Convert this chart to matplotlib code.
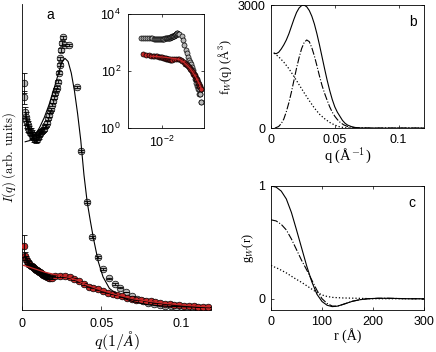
import matplotlib
matplotlib.use("Agg")
import matplotlib.pyplot as plt
import numpy as np

plt.rcParams["font.family"] = ["Liberation Sans", "DejaVu Sans"]
plt.rcParams["mathtext.fontset"] = "cm"
plt.rcParams["font.size"] = 9

# ---- panel a: scattering data (arb. units) ----
gray_q = [0.0010, 0.0015, 0.0019, 0.0023, 0.0027, 0.0031, 0.0035, 0.0040, 0.0045, 0.0050,
          0.0055, 0.0060, 0.0065, 0.0070, 0.0075, 0.0080, 0.0085, 0.0090, 0.0095, 0.0100,
          0.0105, 0.0110, 0.0116, 0.0122, 0.0128, 0.0134, 0.0140, 0.0146, 0.0152, 0.0158,
          0.0164, 0.0170, 0.0176, 0.0182, 0.0188, 0.0194, 0.0200, 0.0206, 0.0212, 0.0218,
          0.0224, 0.0230, 0.0236, 0.0242, 0.0248, 0.0254, 0.0260, 0.0270, 0.0296, 0.0346,
          0.0371, 0.0409, 0.0440, 0.0478, 0.0509, 0.0547, 0.0585, 0.0616, 0.0654, 0.0692,
          0.0723, 0.0761, 0.0792, 0.0830, 0.0868, 0.0899, 0.0937, 0.0969, 0.1006, 0.1038,
          0.1075, 0.1107, 0.1145, 0.1176]
gray_I = [1780, 1670, 1550, 1515, 1490, 1465, 1450, 1430, 1415, 1400,
          1395, 1380, 1370, 1365, 1350, 1345, 1340, 1350, 1345, 1360,
          1370, 1380, 1390, 1400, 1405, 1415, 1420, 1440, 1450, 1470,
          1505, 1530, 1560, 1575, 1610, 1640, 1670, 1700, 1730, 1745,
          1790, 1860, 1925, 1975, 2040, 2095, 2140, 2080, 2080, 1750,
          1247, 847, 573, 416, 322, 251, 204, 173, 141, 110,
          86, 71, 55, 47, 39, 31, 31, 24, 24, 16,
          16, 16, 8, 8]
gray_err = [80, 50, 40, 35, 35, 35, 30, 30, 30, 30,
            30, 30, 30, 30, 30, 30, 30, 30, 30, 30,
            25, 25, 22, 20, 18, 16, 15, 14, 13, 12,
            12, 12, 12, 12, 12, 12, 12, 12, 12, 12,
            12, 12, 12, 12, 12, 12, 12, 10, 10, 8,
            6, 6, 5, 5, 5, 4, 4, 4, 3, 3,
            3, 3, 3, 3, 3, 3, 3, 2, 2, 2,
            2, 2, 2, 2]

red_q = [0.0013, 0.0019, 0.0025, 0.0031, 0.0038, 0.0044, 0.0050, 0.0057, 0.0063, 0.0069,
         0.0075, 0.0082, 0.0088, 0.0094, 0.0101, 0.0107, 0.0113, 0.0119, 0.0126, 0.0132,
         0.0138, 0.0145, 0.0151, 0.0157, 0.0164, 0.0170, 0.0176, 0.0183, 0.0189,
         0.021, 0.024, 0.027, 0.030, 0.033, 0.036, 0.039, 0.042, 0.045, 0.048,
         0.051, 0.054, 0.057, 0.060, 0.063, 0.066, 0.069, 0.072, 0.075, 0.078,
         0.081, 0.084, 0.087, 0.090, 0.093, 0.096, 0.099, 0.102, 0.105, 0.108,
         0.111, 0.114, 0.117]
red_I = [502, 424, 400, 384, 376, 361, 353, 345, 345, 337,
         329, 322, 314, 314, 306, 298, 298, 290, 282, 275,
         275, 267, 267, 259, 259, 255, 255, 258, 255,
         268, 268, 264, 256, 243, 224, 204, 184, 173, 161,
         149, 137, 125, 118, 106, 98, 90, 82, 78, 71,
         67, 59, 55, 51, 47, 43, 39, 35, 31, 31,
         27, 24, 24]
red_err = [86, 30, 25, 22, 20, 20, 18, 18, 18, 16,
           16, 16, 15, 15, 15, 14, 14, 14, 13, 13,
           13, 12, 12, 12, 12, 12, 12, 12, 12,
           6, 6, 6, 6, 5, 5, 5, 4, 4, 4,
           4, 4, 3, 3, 3, 3, 3, 3, 3, 3,
           2, 2, 2, 2, 2, 2, 2, 2, 2, 2,
           2, 2, 2]

fit_gray_q = [0.002, 0.005, 0.008, 0.011, 0.014, 0.017, 0.020, 0.023, 0.025, 0.027,
              0.029, 0.031, 0.033, 0.035, 0.037, 0.039, 0.041, 0.043, 0.045, 0.048,
              0.051, 0.055, 0.060, 0.065, 0.070, 0.075, 0.080, 0.090, 0.100, 0.110, 0.118]
fit_gray_I = [1320, 1330, 1370, 1430, 1510, 1610, 1730, 1860, 1940, 1975,
              1950, 1860, 1720, 1540, 1330, 1060, 850, 700, 560, 380,
              260, 170, 120, 88, 65, 52, 40, 30, 26, 22, 18]

fit_red_q = [0.001, 0.005, 0.010, 0.015, 0.020, 0.025, 0.030, 0.035, 0.040, 0.050,
             0.060, 0.070, 0.080, 0.090, 0.100, 0.110, 0.118]
fit_red_I = [350, 335, 315, 295, 280, 268, 255, 232, 200, 155,
             118, 88, 68, 52, 40, 30, 24]

# ---- panel b: form factor ----
fb_q = [0.0024, 0.004, 0.006, 0.008, 0.010, 0.012, 0.014, 0.016, 0.018, 0.020,
        0.022, 0.024, 0.026, 0.028, 0.030, 0.032, 0.034, 0.036, 0.038, 0.040,
        0.042, 0.044, 0.046, 0.048, 0.050, 0.052, 0.054, 0.056, 0.058, 0.060,
        0.063, 0.066, 0.070, 0.080, 0.120]
fb_total = [1830, 1815, 1850, 1930, 2030, 2150, 2300, 2480, 2660, 2820,
            2930, 2990, 3000, 2960, 2870, 2730, 2540, 2300, 2030, 1740,
            1450, 1170, 920, 700, 520, 390, 290, 190, 120, 75,
            38, 16, 5, 0, 0]
fb_dash_q = [0.003, 0.006, 0.008, 0.010, 0.012, 0.014, 0.016, 0.018, 0.020, 0.022,
             0.024, 0.026, 0.028, 0.030, 0.032, 0.034, 0.036, 0.038, 0.040, 0.042,
             0.044, 0.046, 0.048, 0.050, 0.052, 0.054, 0.057, 0.060, 0.065, 0.070,
             0.080, 0.120]
fb_dash = [0, 40, 110, 220, 400, 620, 880, 1170, 1460, 1720,
           1940, 2090, 2150, 2110, 1960, 1760, 1520, 1270, 1040, 850,
           680, 520, 390, 290, 210, 146, 80, 40, 12, 4,
           0, 0]
fb_dot_q = [0.0024, 0.006, 0.010, 0.014, 0.018, 0.022, 0.026, 0.030, 0.034, 0.038,
            0.042, 0.046, 0.050, 0.054, 0.058, 0.065, 0.080, 0.120]
fb_dot = [1830, 1740, 1610, 1450, 1260, 1060, 860, 670, 490, 340,
          230, 140, 75, 30, 10, 2, 0, 0]

# ---- panel c: pair distribution ----
gc_r = [0, 10, 20, 30, 40, 50, 60, 70, 80, 90,
        100, 110, 120, 130, 140, 150, 160, 175, 190, 210,
        230, 250, 270, 300]
gc_total = [1.0, 0.99, 0.955, 0.885, 0.765, 0.61, 0.45, 0.29, 0.15, 0.04,
            -0.025, -0.058, -0.07, -0.066, -0.052, -0.037, -0.022, -0.008, 0.0, 0.004,
            0.004, 0.002, 0.0, 0.0]
gc_dash_r = [0, 10, 20, 30, 40, 50, 60, 70, 80, 90,
             100, 110, 120, 130, 140, 150, 160, 175, 190, 210,
             230, 250, 270, 300]
gc_dash = [0.70, 0.69, 0.66, 0.61, 0.53, 0.435, 0.34, 0.255, 0.165, 0.075,
           0.0, -0.042, -0.065, -0.066, -0.052, -0.037, -0.022, -0.008, 0.0, 0.004,
           0.004, 0.002, 0.0, 0.0]
gc_dot_r = [0, 15, 30, 45, 60, 75, 90, 105, 120, 140, 170, 200, 300]
gc_dot = [0.295, 0.265, 0.229, 0.185, 0.145, 0.10, 0.055, 0.025, 0.012, 0.007, 0.004, 0.0, 0.0]

gray_c = "#b8b8b8"
red_c = "#c62828"
serif = ["Liberation Serif", "DejaVu Serif"]

fig = plt.figure(figsize=(4.36, 3.52), dpi=100)

# panel a
ax = fig.add_axes([0.0505, 0.1193, 0.4335, 0.869])
ax.plot(gray_q, gray_I, "o", ms=4.8, mfc=gray_c, mec="k", mew=0.5, zorder=2)
ax.errorbar(gray_q, gray_I, yerr=gray_err, fmt="none", ecolor="k", elinewidth=0.6,
            capsize=2.4, capthick=0.6, zorder=3)
ax.plot(red_q, red_I, "o", ms=4.8, mfc=red_c, mec="k", mew=0.5, zorder=4)
ax.errorbar(red_q, red_I, yerr=red_err, fmt="none", ecolor="k", elinewidth=0.6,
            capsize=2.4, capthick=0.6, zorder=5)
ax.plot(fit_gray_q, fit_gray_I, "k-", lw=0.8, zorder=6)
ax.plot(fit_red_q, fit_red_I, "-", color=red_c, lw=0.9, zorder=6)
ax.set_xlim(0, 0.119)
ax.set_ylim(0, 2400)
ax.set_xticks([0, 0.05, 0.1])
ax.set_xticklabels(["0", "0.05", "0.1"])
ax.set_yticks([])
ax.tick_params(axis="x", direction="in", length=3, width=0.5, pad=6)
for s in ["top", "right"]:
    ax.spines[s].set_visible(False)
for s in ["left", "bottom"]:
    ax.spines[s].set_linewidth(0.6)
ax.set_xlabel(r"$q(1/\AA)$", fontsize=11.5, labelpad=-1)
ax.set_ylabel(r"$I(q)\ \mathrm{(arb.\ units)}$", fontsize=9.2, labelpad=3)
ax.text(0.13, 0.95, "a", transform=ax.transAxes, fontsize=10)

# inset
ins = fig.add_axes([0.2936, 0.636, 0.1743, 0.3239])
gq = np.array(gray_q)
gI = np.array(gray_I)
rq = np.array(red_q)
rI = np.array(red_I)
m = gq > 0.0025
ins.plot(gq[m], gI[m], "o", ms=3.6, mfc=gray_c, mec="k", mew=0.5)
mr = rq > 0.0025
ins.plot(rq[mr], rI[mr], "o", ms=3.6, mfc=red_c, mec="k", mew=0.5)
ins.plot(fit_red_q[1:], fit_red_I[1:], "-", color=red_c, lw=0.9)
ins.set_xscale("log")
ins.set_yscale("log")
ins.set_xlim(0.0012, 0.14)
ins.set_ylim(1, 1e4)
ins.set_xticks([0.01])
ins.set_yticks([1, 100, 1e4])
ins.minorticks_off()
ins.tick_params(direction="in", length=2.5, width=0.5, top=True, right=True, labelsize=9, pad=5)
for s in ins.spines.values():
    s.set_linewidth(0.6)

# panel b
axb = fig.add_axes([0.6216, 0.636, 0.351, 0.3494])
axb.plot(fb_q, fb_total, "k-", lw=0.8)
axb.plot(fb_dash_q, fb_dash, "k-.", lw=0.8)
axb.plot(fb_dot_q, fb_dot, "k:", lw=0.9)
axb.set_xlim(0, 0.12)
axb.set_ylim(0, 3000)
axb.set_xticks([0, 0.05, 0.1])
axb.set_xticklabels(["0", "0.05", "0.1"])
axb.set_yticks([0, 3000])
axb.tick_params(direction="in", length=2.5, width=0.5, top=True, right=True, pad=4)
for s in axb.spines.values():
    s.set_linewidth(0.6)
axb.set_xlabel("q (Å$^{-1}$)", family=serif, fontsize=10.5, labelpad=0)
axb.set_ylabel("f$_W$(q) (Å$^3$)", family=serif, fontsize=9, labelpad=2)
axb.text(0.9, 0.83, "b", transform=axb.transAxes, fontsize=10)

# panel c
axc = fig.add_axes([0.6216, 0.1193, 0.351, 0.3523])
axc.plot(gc_r, gc_total, "k-", lw=0.8)
axc.plot(gc_dash_r, gc_dash, "k-.", lw=0.8)
axc.plot(gc_dot_r, gc_dot, "k:", lw=0.9)
axc.set_xlim(0, 300)
axc.set_ylim(-0.1, 1.0)
axc.set_xticks([0, 100, 200, 300])
axc.set_yticks([0, 1])
axc.tick_params(direction="in", length=2.5, width=0.5, top=True, right=True, pad=4)
for s in axc.spines.values():
    s.set_linewidth(0.6)
axc.set_xlabel("r (Å)", family=serif, fontsize=10, labelpad=0)
axc.set_ylabel("g$_W$(r)", family=serif, fontsize=9, labelpad=2)
axc.text(0.9, 0.83, "c", transform=axc.transAxes, fontsize=10)

fig.savefig("out.png", dpi=100)
